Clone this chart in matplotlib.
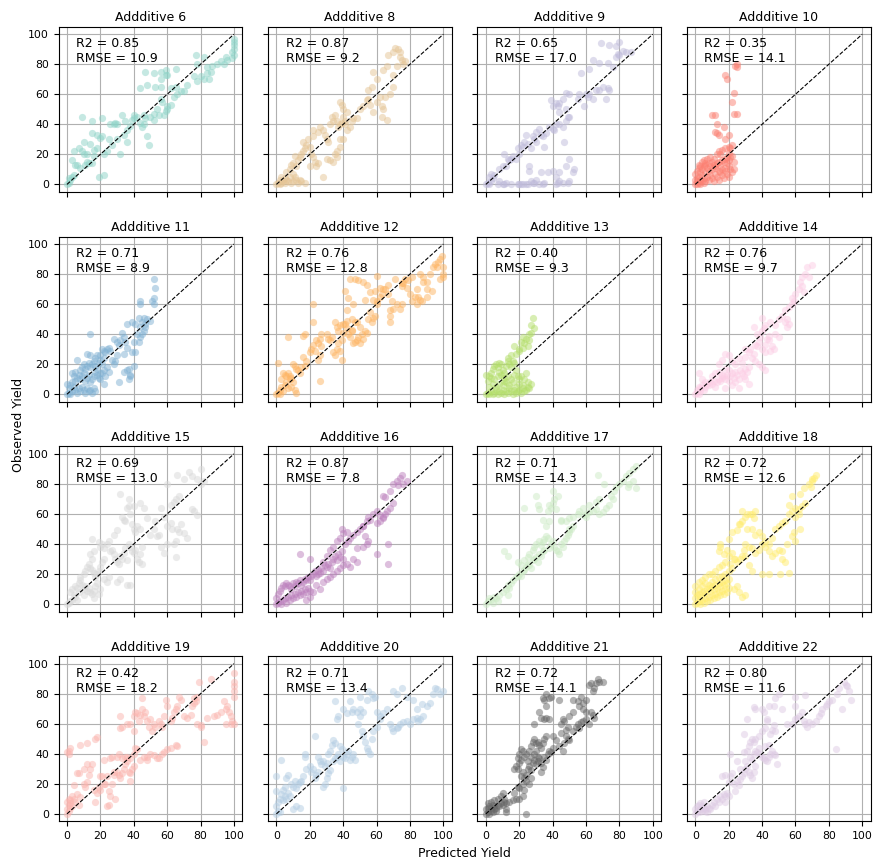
import numpy as np
import matplotlib
matplotlib.use("Agg")
import matplotlib.pyplot as plt


# additive ids, fit stats and colours
additives = [6, 8, 9, 10, 11, 12, 13, 14, 15, 16, 17, 18, 19, 20, 21, 22]
r2_vals = [0.85, 0.87, 0.65, 0.35, 0.71, 0.76, 0.40, 0.76, 0.69, 0.87, 0.71, 0.72, 0.42, 0.71, 0.72, 0.80]
rmse_vals = [10.9, 9.2, 17.0, 14.1, 8.9, 12.8, 9.3, 9.7, 13.0, 7.8, 14.3, 12.6, 18.2, 13.4, 14.1, 11.6]
colors = ['#8dd3c7', '#e5c494', '#bebada', '#fb8072', '#80b1d3', '#fdb462', '#b3de69', '#fccde5',
          '#d9d9d9', '#bc80bd', '#ccebc5', '#ffed6f', '#fbb4ae', '#b3cde3', '#666666', '#decbe4']

# (predicted, observed) pairs
pts_6 = [(0,0),(1,1),(2,3),(1,4),(3,5),(4,6),(5,13),(6,13),(3,16),(4,22),(7,24),(9,22),(10,20),(12,20),(12,15),
         (13,14),(11,13),(8,11),(15,14),(16,19),(16,23),(18,24),(14,27),(10,28),(15,34),(18,33),(20,31),(21,32),
         (22,20),(24,22),(19,5),(22,6),(9,45),(15,42),(21,44),(26,40),(28,40),(30,40),(29,41),(33,46),(35,42),
         (27,26),(25,30),(30,30),(34,33),(36,36),(32,20),(36,28),(38,39),(39,43),(40,44),(40,46),(42,45),(44,41),
         (45,38),(46,40),(47,44),(48,32),(49,26),(46,46),(50,45),(52,43),(52,47),(54,50),(55,46),(56,57),(57,55),
         (60,50),(60,52),(59,49),(58,46),(62,53),(64,58),(66,60),(65,65),(68,62),(70,62),(62,64),(56,65),(56,70),
         (59,73),(56,75),(59,76),(60,73),(52,74),(53,65),(48,66),(44,64),(47,75),(65,77),(72,66),(76,72),(78,69),
         (80,72),(82,70),(84,74),(86,75),(84,78),(87,79),(90,80),(92,82),(94,80),(96,83),(95,85),(77,86),(82,85),
         (78,80),(85,70),(99,84),(100,86),(100,90),(100,93),(100,95),(100,97),(99,88)]
pts_8 = [(0,0),(1,1),(2,0),(2,3),(3,1),(4,2),(5,1),(5,4),(6,3),(7,2),(8,5),(3,5),(9,1),(10,2),(10,7),(11,5),
         (12,3),(13,1),(14,3),(15,2),(17,1),(6,8),(8,10),(9,13),(10,14),(12,12),(13,16),(11,19),(14,18),(15,20),
         (16,22),(17,24),(18,26),(16,28),(19,30),(20,25),(21,20),(22,18),(23,15),(24,12),(20,12),(25,14),(28,5),
         (22,36),(22,32),(25,35),(26,38),(28,36),(29,33),(30,30),(31,28),(32,40),(33,45),(34,42),(35,46),(36,42),
         (37,38),(38,40),(39,41),(40,45),(41,42),(42,48),(41,40),(38,30),(35,20),(36,18),(34,15),(32,16),(30,17),
         (38,25),(36,22),(40,30),(42,36),(44,38),(40,50),(39,53),(45,42),(46,44),(38,55),(48,44),(50,50),(52,52),
         (54,56),(55,63),(56,53),(58,48),(60,55),(62,58),(63,52),(63,45),(65,58),(64,50),(66,43),(68,60),(70,65),
         (70,73),(72,79),(60,70),(58,75),(64,76),(66,79),(67,86),(70,88),(71,91),(73,90),(74,85),(75,83),(76,80),
         (77,82),(74,88),(57,65),(55,57)]
pts_9 = [(0,0),(1,1),(2,0),(3,2),(2,5),(4,4),(3,7),(5,6),(7,0),(8,2),(10,0),(11,0),(12,1),(15,0),(19,0),(20,0),
         (21,0),(22,0),(24,0),(25,0),(27,2),(28,1),(29,1),(30,3),(32,0),(34,0),(35,1),(33,8),(42,0),(43,1),(44,2),
         (46,1),(49,1),(50,2),(42,5),(44,8),(48,12),(52,8),(53,10),(40,9),(26,12),(26,9),(37,8),(8,10),(10,12),
         (12,12),(14,16),(15,17),(16,19),(11,20),(13,17),(18,17),(20,20),(19,24),(21,26),(22,25),(23,28),(25,27),
         (24,33),(28,32),(29,30),(30,35),(32,37),(33,33),(27,24),(30,28),(35,25),(34,32),(36,34),(38,38),(40,37),
         (41,36),(42,40),(44,40),(46,38),(48,42),(49,45),(50,45),(48,50),(43,52),(44,48),(40,52),(42,54),(44,54),
         (46,57),(48,61),(50,60),(39,56),(47,28),(50,17),(55,57),(59,52),(56,60),(60,60),(61,58),(62,60),(64,57),
         (66,63),(68,63),(70,65),(73,64),(74,63),(72,57),(57,74),(62,77),(64,83),(68,81),(73,81),(76,78),(78,85),
         (80,86),(79,87),(82,89),(84,88),(87,88),(80,95),(69,94),(74,93),(78,92)]
pts_10 = [(0,0),(1,0),(2,1),(3,0),(4,2),(5,1),(0,3),(1,4),(2,5),(3,3),(4,6),(5,4),(6,2),(7,5),(8,3),(9,6),
          (10,4),(11,2),(12,7),(13,5),(14,3),(15,8),(16,6),(17,4),(18,9),(19,7),(20,5),(21,10),(22,8),(23,10),
          (0,7),(1,9),(2,11),(3,12),(4,10),(5,12),(6,13),(7,11),(8,14),(9,12),(10,15),(11,13),(12,11),(13,14),
          (14,15),(15,13),(16,16),(17,15),(18,17),(19,14),(20,16),(21,18),(22,19),(23,15),(1,2),(3,8),(6,8),
          (8,9),(10,10),(12,12),(14,9),(16,10),(18,11),(20,12),(5,16),(7,17),(9,18),(6,14),(4,15),(2,13),(15,20),
          (13,20),(11,17),(14,22),(16,23),(18,24),(19,18),(20,25),(20,21),(18,30),(13,34),(12,35),(13,40),(10,46),
          (12,46),(14,33),(22,26),(23,47),(25,47),(23,61),(22,55),(18,73),(19,70),(24,79),(25,80),(25,78),(20,33),
          (17,38),(21,24)]
pts_11 = [(0,0),(1,1),(2,0),(3,2),(1,4),(2,6),(0,7),(3,8),(4,5),(5,3),(6,1),(7,4),(8,2),(9,5),(10,3),(11,1),
          (12,4),(13,2),(14,3),(15,1),(16,4),(17,2),(5,9),(6,11),(4,12),(3,14),(5,15),(7,13),(8,10),(9,12),
          (10,14),(11,9),(12,11),(13,13),(14,8),(15,10),(16,12),(17,15),(18,13),(19,11),(20,14),(8,16),(9,18),
          (10,20),(11,17),(12,19),(13,21),(14,18),(15,20),(16,22),(17,19),(18,17),(19,21),(20,23),(21,20),(22,24),
          (6,23),(12,27),(14,26),(17,24),(18,26),(20,26),(21,30),(22,29),(23,28),(24,30),(25,31),(26,29),(22,16),
          (24,18),(25,15),(21,14),(23,12),(27,23),(28,20),(29,22),(30,26),(31,33),(32,36),(30,35),(28,37),(34,38),
          (33,41),(35,35),(36,31),(34,27),(20,10),(22,7),(31,8),(34,15),(36,16),(37,17),(38,13),(37,10),(38,12),
          (40,19),(39,28),(41,28),(43,35),(44,38),(45,40),(46,42),(47,45),(44,45),(45,48),(47,47),(48,50),(50,49),
          (43,51),(46,51),(44,60),(44,62),(52,60),(51,62),(52,64),(53,71),(52,77),(36,47),(39,48),(41,47),(42,40),
          (40,35),(14,40)]
pts_12 = [(0,0),(1,1),(2,0),(2,3),(3,5),(4,2),(5,6),(6,8),(7,4),(8,10),(3,10),(4,14),(5,13),(6,12),(7,14),
          (8,12),(9,11),(10,8),(9,5),(11,3),(12,1),(1,21),(7,38),(10,20),(11,19),(12,17),(13,16),(14,14),(15,18),
          (16,25),(17,19),(18,22),(16,39),(17,40),(20,28),(21,30),(22,33),(23,29),(24,36),(25,34),(26,37),(27,40),
          (27,32),(26,26),(25,23),(26,9),(22,48),(22,60),(30,40),(31,37),(32,36),(33,38),(34,28),(35,26),(36,30),
          (37,34),(38,29),(39,23),(38,46),(36,45),(35,48),(37,42),(39,36),(40,41),(41,47),(42,44),(43,40),(44,38),
          (45,42),(46,34),(47,35),(48,36),(49,38),(50,34),(51,40),(52,37),(50,45),(47,48),(45,43),(42,49),(40,47),
          (48,48),(53,42),(54,41),(55,50),(56,55),(57,48),(58,51),(59,52),(60,60),(58,63),(60,62),(62,65),(63,67),
          (64,70),(62,71),(59,69),(56,68),(54,73),(52,75),(47,77),(49,76),(44,77),(41,69),(43,64),(42,56),(46,60),
          (53,63),(65,70),(67,73),(67,67),(69,62),(68,56),(68,52),(68,48),(70,57),(72,60),(74,57),(75,60),(75,72),
          (76,74),(77,77),(78,71),(80,67),(81,62),(83,65),(84,60),(85,65),(86,63),(87,62),(88,75),(90,75),(92,80),
          (94,85),(95,87),(96,85),(97,88),(98,90),(99,92),(100,85),(100,80),(100,78),(98,77),(93,69),(90,70),
          (88,78),(86,80),(81,78),(84,70),(79,76),(75,74),(71,77),(60,79),(45,50),(90,65)]
pts_13 = [(0,0),(1,1),(2,0),(3,2),(4,0),(5,1),(6,3),(7,0),(8,2),(9,1),(10,3),(11,0),(12,2),(13,1),(14,4),
          (15,2),(16,0),(17,3),(18,1),(19,2),(20,3),(21,1),(22,4),(23,2),(24,3),(25,5),(26,4),(27,7),(25,8),
          (22,6),(20,7),(18,5),(16,8),(14,6),(12,8),(10,6),(8,7),(6,5),(4,7),(2,5),(1,9),(0,13),(2,12),(3,14),
          (4,17),(5,19),(6,20),(7,18),(8,21),(9,20),(10,16),(11,14),(12,19),(13,22),(14,20),(15,18),(16,22),
          (17,21),(18,16),(19,12),(20,10),(21,12),(23,10),(24,14),(15,10),(13,12),(11,11),(9,13),(7,12),(5,10),
          (3,11),(17,13),(18,27),(20,30),(21,35),(22,38),(23,34),(24,37),(25,32),(26,36),(27,41),(27,46),(28,51),
          (29,44),(26,40),(17,32),(22,31),(20,29),(13,24),(15,26),(11,9),(8,15)]
pts_14 = [(0,0),(1,1),(2,0),(3,2),(1,3),(2,5),(3,4),(4,6),(5,3),(6,5),(7,7),(8,6),(9,8),(10,7),(11,9),
          (12,5),(13,8),(14,10),(15,9),(16,11),(17,12),(18,10),(19,13),(20,9),(21,12),(22,14),(23,11),(24,15),
          (25,13),(26,10),(27,16),(28,14),(29,12),(30,17),(31,15),(32,18),(24,8),(22,6),(18,4),(26,4),(30,10),
          (32,7),(2,14),(4,10),(6,8),(10,12),(12,14),(14,15),(16,13),(18,17),(20,16),(22,22),(24,20),(26,24),
          (28,21),(30,25),(32,28),(34,24),(33,30),(35,27),(36,33),(38,35),(37,40),(39,38),(40,42),(41,44),(42,46),
          (43,37),(44,39),(46,32),(45,29),(47,30),(42,28),(40,30),(36,22),(38,20),(40,18),(42,16),(20,26),(18,27),
          (16,23),(14,20),(48,40),(50,38),(48,46),(50,50),(52,52),(54,48),(55,45),(56,47),(54,56),(56,58),(58,60),
          (58,64),(59,62),(60,67),(62,70),(64,72),(65,68),(63,75),(64,78),(66,80),(67,85),(68,78),(70,86),(55,50),
          (35,45),(40,51),(45,48),(44,36),(42,33),(37,32),(30,30)]
pts_15 = [(0,0),(1,1),(2,2),(3,3),(4,6),(5,5),(6,3),(7,8),(2,8),(3,10),(5,12),(6,11),(7,14),(8,16),(9,13),
          (10,10),(11,12),(12,9),(13,11),(14,8),(15,7),(16,9),(17,12),(18,14),(19,7),(20,10),(16,4),(10,6),(8,18),
          (10,20),(11,22),(12,25),(13,27),(14,24),(15,23),(16,21),(17,18),(18,20),(19,22),(20,25),(21,28),(22,30),
          (15,30),(14,33),(16,35),(15,43),(19,41),(20,38),(21,40),(22,37),(24,40),(25,42),(26,35),(27,36),(28,33),
          (29,30),(30,28),(31,27),(32,32),(33,30),(34,34),(35,37),(36,29),(37,40),(38,38),(39,35),(40,34),(41,36),
          (42,30),(43,28),(44,33),(45,27),(36,13),(38,13),(22,17),(24,15),(25,18),(30,15),(32,17),(30,49),(33,58),
          (34,56),(35,55),(36,64),(37,65),(38,60),(39,53),(40,50),(41,48),(42,52),(44,50),(40,65),(44,67),(46,64),
          (48,57),(50,46),(52,50),(53,55),(54,45),(55,46),(56,64),(58,58),(60,52),(62,54),(63,50),(65,42),(64,40),
          (66,50),(67,48),(68,53),(70,47),(72,44),(62,66),(64,68),(65,70),(67,72),(75,63),(76,62),(78,59),(60,80),
          (66,86),(70,83),(73,88),(75,85),(80,80),(80,90),(78,83),(82,82),(65,31),(58,34),(56,38),(60,40),(45,38),
          (32,73),(37,70),(28,46)]
pts_16 = [(0,0),(1,1),(2,2),(3,0),(4,3),(5,4),(6,1),(7,5),(8,3),(9,6),(10,4),(11,7),(12,5),(13,8),(14,6),
          (15,9),(16,7),(17,10),(18,8),(19,11),(20,9),(0,4),(1,7),(2,9),(3,11),(4,13),(5,12),(6,14),(7,13),(8,12),
          (9,10),(10,14),(11,12),(12,15),(13,14),(14,16),(15,13),(16,15),(17,17),(18,16),(19,18),(20,16),(21,19),
          (22,20),(23,22),(24,19),(25,23),(26,21),(27,24),(28,22),(29,26),(30,25),(31,27),(32,24),(33,28),(34,30),
          (35,32),(36,29),(37,33),(38,31),(39,35),(40,30),(18,3),(20,5),(22,8),(24,13),(26,10),(28,15),(30,17),
          (32,18),(34,20),(36,22),(38,24),(40,26),(42,27),(44,25),(46,30),(48,28),(20,30),(25,20),(28,28),(30,32),
          (32,36),(34,38),(36,42),(38,44),(40,47),(42,48),(39,50),(41,40),(43,42),(44,44),(46,46),(48,48),(50,50),
          (52,52),(54,55),(55,58),(56,56),(58,60),(60,62),(62,59),(64,58),(65,60),(66,62),(68,64),(70,67),(62,55),
          (64,57),(60,54),(52,38),(54,40),(55,42),(53,45),(48,37),(52,52),(64,72),(65,71),(68,75),(70,80),(72,82),
          (74,84),(75,86),(73,79),(76,80),(78,82),(67,40),(67,27),(60,33),(14,33)]
pts_17 = [(0,0),(1,2),(2,4),(3,3),(4,1),(5,5),(6,4),(7,2),(8,6),(10,8),(12,10),(13,6),(14,11),(13,13),(15,14),
          (16,16),(18,18),(19,19),(20,20),(21,19),(22,22),(23,23),(24,25),(25,27),(26,26),(27,24),(28,29),(29,30),
          (30,31),(31,28),(32,33),(33,32),(34,35),(35,36),(11,35),(13,32),(19,28),(21,26),(23,29),(25,31),(26,33),
          (28,36),(29,38),(30,40),(32,42),(33,39),(34,41),(35,43),(36,45),(37,44),(38,37),(39,40),(40,42),(41,38),
          (42,36),(43,35),(44,33),(45,40),(46,38),(47,42),(48,44),(49,46),(50,48),(51,50),(52,52),(38,55),(36,52),
          (34,56),(37,62),(38,66),(39,64),(40,67),(41,70),(42,63),(43,72),(32,63),(30,72),(31,66),(23,64),(40,75),
          (45,56),(48,55),(50,57),(52,58),(55,60),(56,62),(58,59),(60,60),(62,61),(64,62),(66,63),(68,60),(70,61),
          (72,64),(74,66),(75,72),(76,70),(77,75),(78,78),(80,80),(82,82),(84,85),(86,87),(88,90),(90,92),(85,78),
          (86,80),(88,82),(90,77),(67,86),(71,80),(68,70),(66,68),(62,66),(58,64),(50,50),(45,55),(60,58)]
pts_18 = [(0,0),(1,1),(2,2),(3,0),(4,3),(5,1),(6,4),(7,2),(8,5),(9,3),(10,6),(11,4),(12,7),(13,5),(14,8),
          (15,6),(16,9),(17,7),(18,10),(19,8),(20,11),(0,4),(1,6),(2,7),(3,5),(4,8),(5,9),(6,7),(7,10),(8,11),
          (9,9),(10,12),(11,10),(12,13),(13,11),(14,14),(15,12),(16,15),(17,13),(18,16),(19,14),(20,17),(0,8),
          (2,10),(4,12),(6,14),(8,13),(10,15),(12,17),(14,18),(16,19),(18,20),(0,12),(2,15),(4,16),(6,18),(8,20),
          (10,20),(12,22),(14,25),(16,26),(18,28),(20,22),(22,24),(21,27),(23,10),(25,12),(26,8),(28,5),(30,6),
          (24,30),(15,40),(15,38),(14,35),(17,33),(19,36),(20,32),(22,34),(23,30),(25,28),(27,30),(28,32),(29,36),
          (30,40),(32,38),(34,37),(36,34),(38,36),(40,40),(42,38),(44,35),(46,32),(48,34),(50,36),(52,35),(55,40),
          (52,30),(54,28),(56,21),(51,20),(30,32),(32,26),(34,22),(40,20),(44,20),(20,43),(22,48),(25,49),(26,53),
          (28,55),(30,58),(31,60),(33,60),(35,57),(36,62),(34,60),(28,62),(27,53),(31,50),(34,50),(36,46),(38,48),
          (40,45),(42,42),(44,40),(46,44),(48,50),(50,52),(52,54),(54,55),(56,60),(58,62),(60,64),(62,63),(64,65),
          (66,67),(60,58),(62,60),(56,66),(58,72),(63,73),(65,77),(68,80),(70,83),(71,84),(72,86),(70,82),(69,78),
          (63,50),(60,42),(58,45),(59,48)]
pts_19 = [(0,0),(1,2),(2,4),(1,6),(0,8),(2,7),(3,5),(1,10),(2,9),(0,3),(3,12),(4,10),(5,8),(6,13),(7,6),
          (8,11),(4,19),(6,27),(7,27),(10,20),(11,18),(12,21),(13,26),(14,30),(15,33),(16,16),(17,8),(18,14),
          (19,18),(20,16),(21,25),(22,36),(23,20),(25,15),(26,12),(27,20),(25,6),(24,5),(29,10),(28,26),(30,28),
          (31,26),(32,24),(33,27),(34,30),(35,33),(36,35),(37,28),(38,22),(38,27),(39,30),(40,32),(30,38),(31,40),
          (33,37),(35,38),(36,38),(38,37),(40,40),(42,43),(41,44),(44,36),(46,38),(48,38),(50,40),(52,39),(54,37),
          (55,37),(57,40),(58,41),(60,43),(62,44),(65,46),(1,40),(1,42),(2,44),(0,41),(8,46),(12,47),(17,50),
          (18,51),(12,33),(10,30),(20,25),(24,25),(26,37),(27,38),(32,57),(33,58),(36,60),(38,60),(40,55),(40,65),
          (41,68),(42,67),(43,62),(44,66),(45,70),(46,65),(47,68),(48,62),(49,58),(50,63),(51,55),(52,60),(53,58),
          (55,62),(56,60),(57,58),(58,65),(59,76),(60,72),(62,62),(63,64),(64,68),(65,70),(66,72),(67,78),(68,76),
          (70,65),(72,64),(74,66),(75,72),(76,74),(77,75),(78,78),(78,60),(80,58),(80,59),(82,48),(84,64),(86,90),
          (88,65),(90,66),(92,68),(94,75),(95,70),(96,72),(97,68),(98,65),(99,62),(100,82),(100,85),(100,88),
          (100,94),(100,78),(95,60),(98,60),(100,60),(79,88),(76,77),(66,45),(45,77),(32,65),(48,36),(28,28),(22,20)]
pts_20 = [(0,0),(1,2),(2,1),(0,5),(1,8),(2,10),(3,13),(4,9),(5,12),(6,10),(7,14),(8,12),(0,15),(0,25),(3,36),
          (4,16),(5,18),(6,24),(7,26),(9,20),(10,18),(11,22),(12,17),(13,20),(14,21),(15,22),(16,25),(14,4),(12,5),
          (10,3),(17,38),(17,40),(18,30),(20,32),(21,28),(22,30),(23,24),(24,26),(25,28),(23,52),(25,38),(26,35),
          (27,33),(28,35),(29,32),(30,34),(31,40),(32,42),(28,18),(29,20),(30,24),(31,27),(32,29),(34,35),(35,37),
          (36,38),(37,40),(38,35),(39,43),(40,38),(41,37),(42,40),(43,42),(44,36),(45,38),(46,40),(47,36),(38,45),
          (34,49),(35,47),(33,46),(40,17),(36,63),(35,75),(37,65),(40,70),(42,67),(44,75),(45,68),(46,70),(48,68),
          (49,60),(50,65),(51,55),(52,52),(53,48),(54,44),(55,42),(56,40),(57,50),(58,55),(60,58),(62,65),(50,70),
          (52,68),(54,76),(55,82),(57,80),(58,77),(59,78),(60,68),(62,63),(64,67),(66,70),(68,60),(69,57),(70,55),
          (72,57),(73,58),(74,60),(76,61),(78,62),(80,60),(82,63),(84,64),(85,62),(86,63),(88,65),(90,72),(92,74),
          (94,80),(95,84),(96,83),(98,80),(100,82),(84,70),(82,76),(78,78),(75,84),(72,80),(70,82),(87,73),(50,78)]
pts_21 = [(0,0),(1,1),(2,0),(3,2),(4,1),(5,3),(6,2),(0,3),(1,4),(2,5),(3,4),(4,6),(5,5),(6,4),(7,6),(8,5),
          (9,7),(10,6),(11,8),(12,7),(1,7),(3,8),(5,9),(7,10),(9,12),(10,14),(11,10),(12,3),(12,1),(14,8),(16,9),
          (18,10),(17,14),(19,18),(20,17),(22,20),(23,16),(24,0),(22,12),(20,10),(21,25),(22,28),(23,24),(24,26),
          (25,30),(26,32),(27,29),(28,34),(29,36),(30,33),(31,35),(32,37),(33,34),(34,31),(35,38),(36,36),(37,40),
          (38,42),(39,41),(40,44),(20,34),(21,36),(19,37),(23,38),(24,40),(26,42),(27,45),(28,48),(29,50),(31,48),
          (32,46),(33,44),(34,47),(35,50),(36,52),(30,47),(31,38),(33,28),(20,40),(21,43),(22,42),(19,30),(18,32),
          (17,30),(25,35),(27,38),(29,40),(30,42),(40,52),(42,49),(44,45),(46,42),(47,47),(48,52),(49,50),(50,49),
          (52,55),(54,58),(55,60),(56,57),(57,61),(58,62),(60,63),(62,60),(63,68),(64,66),(65,64),(60,68),(58,70),
          (56,72),(55,75),(52,68),(50,65),(49,58),(47,62),(46,63),(38,63),(36,72),(35,76),(34,77),(38,77),(36,64),
          (33,64),(35,63),(29,60),(32,68),(36,80),(39,78),(44,76),(52,76),(57,78),(62,86),(63,87),(65,84),(66,87),
          (67,90),(68,88),(70,88),(64,82),(60,76),(58,74),(48,56),(45,54),(45,60),(27,24),(26,20),(24,22)]
pts_22 = [(0,0),(1,2),(2,1),(3,3),(4,2),(5,4),(6,3),(7,5),(8,4),(1,5),(2,6),(3,7),(4,5),(0,3),(5,8),(6,2),
          (7,1),(9,3),(10,6),(11,8),(12,5),(13,10),(14,8),(15,12),(16,10),(17,13),(18,12),(19,14),(20,12),(18,8),
          (20,21),(21,25),(22,27),(23,20),(24,15),(25,22),(26,19),(27,23),(28,25),(29,27),(30,30),(31,32),(32,28),
          (33,26),(34,24),(35,28),(36,32),(34,36),(33,38),(35,40),(36,42),(37,41),(38,44),(39,40),(40,38),(41,37),
          (42,36),(43,35),(44,38),(45,40),(46,42),(47,40),(48,39),(49,33),(30,35),(29,41),(31,42),(32,45),(33,48),
          (34,50),(35,48),(36,50),(38,52),(40,55),(42,57),(45,53),(46,56),(47,59),(48,55),(29,53),(31,63),(35,71),
          (36,70),(40,70),(41,68),(43,63),(43,62),(44,72),(47,72),(48,77),(50,80),(52,70),(55,60),(58,60),(60,63),
          (61,64),(62,65),(64,68),(65,62),(66,60),(67,58),(68,61),(70,60),(72,62),(74,65),(75,67),(76,70),(78,72),
          (79,73),(80,75),(82,76),(66,79),(60,72),(84,43),(88,70),(90,86),(91,85),(92,82),(93,76),(89,88),(86,84),
          (85,80),(60,78),(42,45),(44,46),(27,30),(25,35),(21,40),(16,25),(18,26)]

all_pts = [pts_6, pts_8, pts_9, pts_10, pts_11, pts_12, pts_13, pts_14,
           pts_15, pts_16, pts_17, pts_18, pts_19, pts_20, pts_21, pts_22]


fig, axes = plt.subplots(4, 4, figsize=(8.75, 8.61), dpi=100, sharex=True, sharey=True)
fig.subplots_adjust(left=0.067, right=0.995, top=0.969, bottom=0.046, wspace=0.14, hspace=0.27)

for ii, ax in enumerate(axes.flat):
    pts = np.array(all_pts[ii], dtype=float)
    ax.scatter(pts[:, 0], pts[:, 1], s=27, color=colors[ii], alpha=0.5, linewidths=0, zorder=3)
    ax.plot([0, 100], [0, 100], '--', color='black', lw=0.8, zorder=4)
    ax.set_xlim(-5, 105)
    ax.set_ylim(-5, 105)
    ax.set_xticks([0, 20, 40, 60, 80, 100])
    ax.set_yticks([0, 20, 40, 60, 80, 100])
    ax.grid(True, color='#b0b0b0', lw=0.8, zorder=0)
    ax.set_axisbelow(True)
    ax.tick_params(labelsize=7.8, length=3.5, width=0.8)
    ax.set_title(f"Addditive {additives[ii]}", fontsize=9, pad=4)
    ax.text(0.095, 0.935, f"R2 = {r2_vals[ii]:.2f}\nRMSE = {rmse_vals[ii]:.1f}",
            transform=ax.transAxes, fontsize=9, va='top', ha='left', zorder=5)

fig.text(0.531, 0.009, "Predicted Yield", ha='center', va='center', fontsize=9)
fig.text(0.021, 0.507, "Observed Yield", ha='center', va='center', rotation=90, fontsize=9)

plt.savefig("out.png", dpi=100)
